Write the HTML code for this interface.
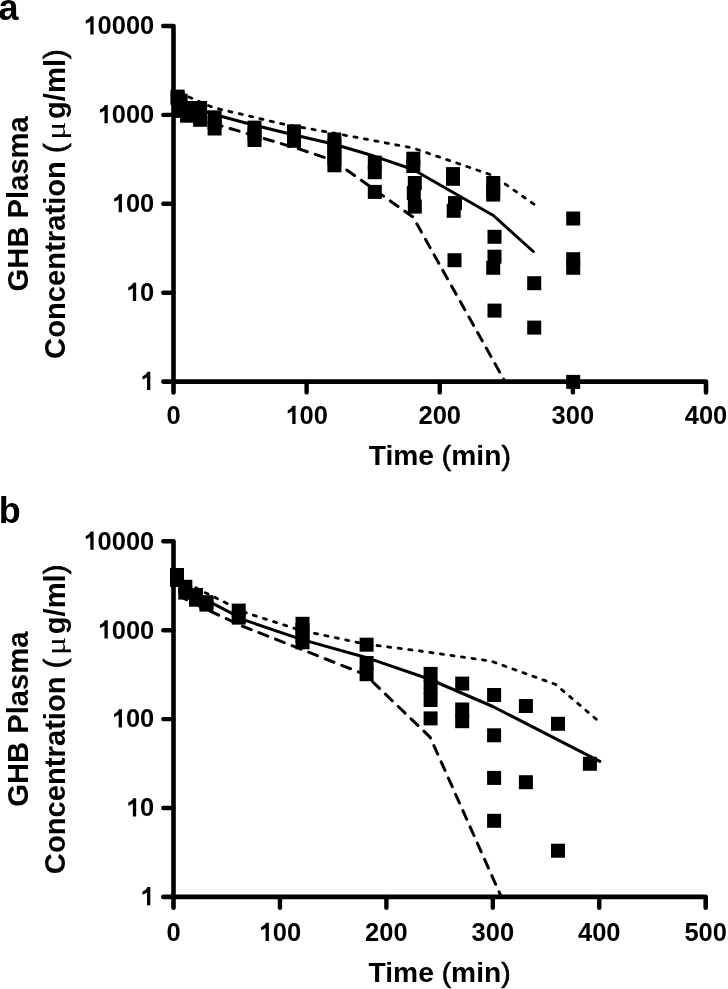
<!DOCTYPE html>
<html><head><meta charset="utf-8"><title>GHB plasma concentration</title>
<style>
html,body{margin:0;padding:0;background:#fff;}
svg{display:block;will-change:transform;}
.t{font-family:"Liberation Sans", sans-serif;font-weight:bold;font-size:25.5px;fill:#000;}
.l{font-family:"Liberation Sans", sans-serif;font-weight:bold;font-size:28.2px;fill:#000;}
.p{font-family:"Liberation Sans", sans-serif;font-weight:bold;font-size:36px;fill:#000;}
.yl{font-family:"Liberation Sans", sans-serif;font-weight:bold;font-size:29.2px;fill:#000;}
.pr{font-weight:normal;stroke:#000;stroke-width:0.7px;}
.mu{font-family:"Liberation Serif", serif;font-weight:normal;font-size:27.5px;fill:#000;}
</style></head>
<body>
<svg width="728" height="989" viewBox="0 0 728 989">
<rect width="728" height="989" fill="#fff"/>
<path d="M163.3,26 H173.5 V392.40000000000003" fill="none" stroke="#000" stroke-width="4.6" stroke-linecap="round" stroke-linejoin="round"/>
<path d="M163.3,381.6 H706.0 V392.40000000000003" fill="none" stroke="#000" stroke-width="4.6" stroke-linecap="round" stroke-linejoin="round"/>
<path d="M163.3,114.90 H173.5" stroke="#000" stroke-width="4.4" stroke-linecap="round"/>
<path d="M163.3,203.80 H173.5" stroke="#000" stroke-width="4.4" stroke-linecap="round"/>
<path d="M163.3,292.70 H173.5" stroke="#000" stroke-width="4.4" stroke-linecap="round"/>
<path d="M306.62,381.6 V392.40000000000003" stroke="#000" stroke-width="4.4" stroke-linecap="round"/>
<path d="M439.75,381.6 V392.40000000000003" stroke="#000" stroke-width="4.4" stroke-linecap="round"/>
<path d="M572.88,381.6 V392.40000000000003" stroke="#000" stroke-width="4.4" stroke-linecap="round"/>
<g transform="translate(0,34.40) scale(1,1.04) translate(0,-34.40)"><path transform="translate(83.39,34.40) scale(0.01245,-0.01197)" d="M820 0H555V1030Q400 900 190 850V1110Q320 1150 430 1250Q540 1350 580 1466H820Z"/><text x="97.57" y="34.40" class="t">0000</text></g>
<g transform="translate(0,123.30) scale(1,1.04) translate(0,-123.30)"><path transform="translate(97.57,123.30) scale(0.01245,-0.01197)" d="M820 0H555V1030Q400 900 190 850V1110Q320 1150 430 1250Q540 1350 580 1466H820Z"/><text x="111.75" y="123.30" class="t">000</text></g>
<g transform="translate(0,212.20) scale(1,1.04) translate(0,-212.20)"><path transform="translate(111.75,212.20) scale(0.01245,-0.01197)" d="M820 0H555V1030Q400 900 190 850V1110Q320 1150 430 1250Q540 1350 580 1466H820Z"/><text x="125.94" y="212.20" class="t">00</text></g>
<g transform="translate(0,301.10) scale(1,1.04) translate(0,-301.10)"><path transform="translate(125.94,301.10) scale(0.01245,-0.01197)" d="M820 0H555V1030Q400 900 190 850V1110Q320 1150 430 1250Q540 1350 580 1466H820Z"/><text x="140.12" y="301.10" class="t">0</text></g>
<g transform="translate(0,390.00) scale(1,1.04) translate(0,-390.00)"><path transform="translate(140.12,390.00) scale(0.01245,-0.01197)" d="M820 0H555V1030Q400 900 190 850V1110Q320 1150 430 1250Q540 1350 580 1466H820Z"/></g>
<g transform="translate(0,424.10) scale(1,1.04) translate(0,-424.10)"><text x="166.41" y="424.10" class="t">0</text></g>
<g transform="translate(0,424.10) scale(1,1.04) translate(0,-424.10)"><path transform="translate(285.35,424.10) scale(0.01245,-0.01197)" d="M820 0H555V1030Q400 900 190 850V1110Q320 1150 430 1250Q540 1350 580 1466H820Z"/><text x="299.53" y="424.10" class="t">00</text></g>
<g transform="translate(0,424.10) scale(1,1.04) translate(0,-424.10)"><text x="418.48" y="424.10" class="t">200</text></g>
<g transform="translate(0,424.10) scale(1,1.04) translate(0,-424.10)"><text x="551.60" y="424.10" class="t">300</text></g>
<g transform="translate(0,424.10) scale(1,1.04) translate(0,-424.10)"><text x="684.73" y="424.10" class="t">400</text></g>
<text x="439.75" y="464.60" text-anchor="middle" class="l">Time <tspan class="pr">(</tspan>min<tspan class="pr">)</tspan></text>
<text transform="translate(27.5,203.80) rotate(-90)" text-anchor="middle" class="yl">GHB Plasma</text>
<text transform="translate(65.4,358.90) rotate(-90)" class="yl">Concentration <tspan class="pr">(</tspan></text>
<text transform="translate(65.4,130.70) rotate(-90) scale(1.23,1)" text-anchor="middle" class="mu">μ</text>
<text transform="translate(65.4,119.00) rotate(-90)" class="yl">g/ml<tspan class="pr">)</tspan></text>
<text x="-1.5" y="20.0" class="p">a</text>
<path d="M177.6,92.0 L210.0,106.3 L220.5,109.3 L282.6,124.0 L333.2,133.0 L413.0,148.0 L493.0,175.5 L534.4,204.5" fill="none" stroke="#000" stroke-width="2.8" stroke-dasharray="3.2 7.44" stroke-dashoffset="8.92" stroke-linecap="round" stroke-linejoin="round"/>
<path d="M176.0,102.0 L213.4,114.2 L253.4,125.0 L293.3,134.8 L333.2,144.0 L373.2,155.8 L413.1,169.5 L493.4,215.5 L533.3,251.5" fill="none" stroke="#000" stroke-width="3.0" stroke-linecap="round" stroke-linejoin="round"/>
<path d="M177.6,112.9 L299.0,148.9 L333.2,160.4 L413.0,217.0 L505.0,381.6" fill="none" stroke="#000" stroke-width="3.0" stroke-dasharray="9.5 8.3" stroke-dashoffset="16.47" stroke-linecap="round" stroke-linejoin="round"/>
<rect x="170.60" y="89.60" width="14.0" height="14.0"/>
<rect x="170.60" y="91.20" width="14.0" height="14.0"/>
<rect x="173.60" y="93.70" width="14.0" height="14.0"/>
<rect x="173.60" y="103.90" width="14.0" height="14.0"/>
<rect x="180.10" y="101.00" width="14.0" height="14.0"/>
<rect x="180.10" y="108.70" width="14.0" height="14.0"/>
<rect x="186.50" y="101.00" width="14.0" height="14.0"/>
<rect x="186.50" y="108.00" width="14.0" height="14.0"/>
<rect x="193.10" y="101.00" width="14.0" height="14.0"/>
<rect x="193.10" y="112.80" width="14.0" height="14.0"/>
<rect x="207.60" y="110.30" width="14.0" height="14.0"/>
<rect x="207.60" y="116.00" width="14.0" height="14.0"/>
<rect x="207.60" y="121.50" width="14.0" height="14.0"/>
<rect x="247.50" y="120.60" width="14.0" height="14.0"/>
<rect x="247.50" y="127.00" width="14.0" height="14.0"/>
<rect x="247.50" y="133.00" width="14.0" height="14.0"/>
<rect x="287.00" y="124.40" width="14.0" height="14.0"/>
<rect x="287.00" y="130.00" width="14.0" height="14.0"/>
<rect x="287.00" y="133.80" width="14.0" height="14.0"/>
<rect x="327.40" y="132.50" width="14.0" height="14.0"/>
<rect x="327.40" y="139.00" width="14.0" height="14.0"/>
<rect x="327.40" y="145.00" width="14.0" height="14.0"/>
<rect x="327.40" y="151.00" width="14.0" height="14.0"/>
<rect x="327.40" y="158.30" width="14.0" height="14.0"/>
<rect x="367.80" y="155.60" width="14.0" height="14.0"/>
<rect x="367.80" y="165.20" width="14.0" height="14.0"/>
<rect x="367.80" y="184.90" width="14.0" height="14.0"/>
<rect x="406.30" y="151.70" width="14.0" height="14.0"/>
<rect x="406.30" y="159.00" width="14.0" height="14.0"/>
<rect x="407.80" y="176.00" width="14.0" height="14.0"/>
<rect x="406.80" y="186.00" width="14.0" height="14.0"/>
<rect x="407.80" y="199.60" width="14.0" height="14.0"/>
<rect x="446.00" y="167.10" width="14.0" height="14.0"/>
<rect x="446.00" y="171.80" width="14.0" height="14.0"/>
<rect x="448.00" y="196.10" width="14.0" height="14.0"/>
<rect x="446.70" y="203.80" width="14.0" height="14.0"/>
<rect x="447.50" y="253.20" width="14.0" height="14.0"/>
<rect x="486.20" y="176.00" width="14.0" height="14.0"/>
<rect x="486.20" y="183.00" width="14.0" height="14.0"/>
<rect x="486.20" y="187.60" width="14.0" height="14.0"/>
<rect x="487.50" y="229.80" width="14.0" height="14.0"/>
<rect x="487.50" y="249.70" width="14.0" height="14.0"/>
<rect x="486.20" y="260.80" width="14.0" height="14.0"/>
<rect x="487.50" y="303.60" width="14.0" height="14.0"/>
<rect x="527.20" y="276.20" width="14.0" height="14.0"/>
<rect x="527.20" y="320.60" width="14.0" height="14.0"/>
<rect x="566.20" y="211.50" width="14.0" height="14.0"/>
<rect x="566.20" y="252.20" width="14.0" height="14.0"/>
<rect x="566.20" y="260.80" width="14.0" height="14.0"/>
<rect x="566.20" y="374.90" width="14.0" height="14.0"/>
<path d="M163.3,541.3 H173.5 V907.6999999999999" fill="none" stroke="#000" stroke-width="4.6" stroke-linecap="round" stroke-linejoin="round"/>
<path d="M163.3,896.9 H705.7 V907.6999999999999" fill="none" stroke="#000" stroke-width="4.6" stroke-linecap="round" stroke-linejoin="round"/>
<path d="M163.3,630.20 H173.5" stroke="#000" stroke-width="4.4" stroke-linecap="round"/>
<path d="M163.3,719.10 H173.5" stroke="#000" stroke-width="4.4" stroke-linecap="round"/>
<path d="M163.3,808.00 H173.5" stroke="#000" stroke-width="4.4" stroke-linecap="round"/>
<path d="M279.94,896.9 V907.6999999999999" stroke="#000" stroke-width="4.4" stroke-linecap="round"/>
<path d="M386.38,896.9 V907.6999999999999" stroke="#000" stroke-width="4.4" stroke-linecap="round"/>
<path d="M492.82,896.9 V907.6999999999999" stroke="#000" stroke-width="4.4" stroke-linecap="round"/>
<path d="M599.26,896.9 V907.6999999999999" stroke="#000" stroke-width="4.4" stroke-linecap="round"/>
<g transform="translate(0,549.70) scale(1,1.04) translate(0,-549.70)"><path transform="translate(83.39,549.70) scale(0.01245,-0.01197)" d="M820 0H555V1030Q400 900 190 850V1110Q320 1150 430 1250Q540 1350 580 1466H820Z"/><text x="97.57" y="549.70" class="t">0000</text></g>
<g transform="translate(0,638.60) scale(1,1.04) translate(0,-638.60)"><path transform="translate(97.57,638.60) scale(0.01245,-0.01197)" d="M820 0H555V1030Q400 900 190 850V1110Q320 1150 430 1250Q540 1350 580 1466H820Z"/><text x="111.75" y="638.60" class="t">000</text></g>
<g transform="translate(0,727.50) scale(1,1.04) translate(0,-727.50)"><path transform="translate(111.75,727.50) scale(0.01245,-0.01197)" d="M820 0H555V1030Q400 900 190 850V1110Q320 1150 430 1250Q540 1350 580 1466H820Z"/><text x="125.94" y="727.50" class="t">00</text></g>
<g transform="translate(0,816.40) scale(1,1.04) translate(0,-816.40)"><path transform="translate(125.94,816.40) scale(0.01245,-0.01197)" d="M820 0H555V1030Q400 900 190 850V1110Q320 1150 430 1250Q540 1350 580 1466H820Z"/><text x="140.12" y="816.40" class="t">0</text></g>
<g transform="translate(0,905.30) scale(1,1.04) translate(0,-905.30)"><path transform="translate(140.12,905.30) scale(0.01245,-0.01197)" d="M820 0H555V1030Q400 900 190 850V1110Q320 1150 430 1250Q540 1350 580 1466H820Z"/></g>
<g transform="translate(0,940.90) scale(1,1.04) translate(0,-940.90)"><text x="166.41" y="940.90" class="t">0</text></g>
<g transform="translate(0,940.90) scale(1,1.04) translate(0,-940.90)"><path transform="translate(258.67,940.90) scale(0.01245,-0.01197)" d="M820 0H555V1030Q400 900 190 850V1110Q320 1150 430 1250Q540 1350 580 1466H820Z"/><text x="272.85" y="940.90" class="t">00</text></g>
<g transform="translate(0,940.90) scale(1,1.04) translate(0,-940.90)"><text x="365.11" y="940.90" class="t">200</text></g>
<g transform="translate(0,940.90) scale(1,1.04) translate(0,-940.90)"><text x="471.55" y="940.90" class="t">300</text></g>
<g transform="translate(0,940.90) scale(1,1.04) translate(0,-940.90)"><text x="577.99" y="940.90" class="t">400</text></g>
<g transform="translate(0,940.90) scale(1,1.04) translate(0,-940.90)"><text x="684.43" y="940.90" class="t">500</text></g>
<text x="439.60" y="981.70" text-anchor="middle" class="l">Time <tspan class="pr">(</tspan>min<tspan class="pr">)</tspan></text>
<text transform="translate(27.5,719.10) rotate(-90)" text-anchor="middle" class="yl">GHB Plasma</text>
<text transform="translate(65.4,874.20) rotate(-90)" class="yl">Concentration <tspan class="pr">(</tspan></text>
<text transform="translate(65.4,646.00) rotate(-90) scale(1.23,1)" text-anchor="middle" class="mu">μ</text>
<text transform="translate(65.4,634.30) rotate(-90)" class="yl">g/ml<tspan class="pr">)</tspan></text>
<text x="-1.2" y="522.6" class="p">b</text>
<path d="M181.0,580.0 L205.4,592.8 L247.1,613.2 L301.2,630.5 L365.1,644.0 L420.0,651.0 L490.7,661.0 L555.6,684.4 L598.0,720.7" fill="none" stroke="#000" stroke-width="2.8" stroke-dasharray="3.2 7.44" stroke-dashoffset="4.65" stroke-linecap="round" stroke-linejoin="round"/>
<path d="M181.0,587.0 L205.4,599.7 L245.4,620.4 L301.2,639.4 L365.1,657.2 L429.0,679.0 L492.8,706.5 L599.8,761.4" fill="none" stroke="#000" stroke-width="3.0" stroke-linecap="round" stroke-linejoin="round"/>
<path d="M183.0,598.0 L205.4,609.0 L243.6,626.6 L365.1,674.5 L430.2,737.3 L501.3,896.9" fill="none" stroke="#000" stroke-width="3.0" stroke-dasharray="9.5 8.3" stroke-dashoffset="5.52" stroke-linecap="round" stroke-linejoin="round"/>
<rect x="170.00" y="568.00" width="14.0" height="14.0"/>
<rect x="170.00" y="573.00" width="14.0" height="14.0"/>
<rect x="178.30" y="579.80" width="14.0" height="14.0"/>
<rect x="178.30" y="585.60" width="14.0" height="14.0"/>
<rect x="189.00" y="588.00" width="14.0" height="14.0"/>
<rect x="189.00" y="592.70" width="14.0" height="14.0"/>
<rect x="199.40" y="595.20" width="14.0" height="14.0"/>
<rect x="199.40" y="597.60" width="14.0" height="14.0"/>
<rect x="231.70" y="603.60" width="14.0" height="14.0"/>
<rect x="231.70" y="610.60" width="14.0" height="14.0"/>
<rect x="295.50" y="616.80" width="14.0" height="14.0"/>
<rect x="295.50" y="623.00" width="14.0" height="14.0"/>
<rect x="295.50" y="629.00" width="14.0" height="14.0"/>
<rect x="295.50" y="635.30" width="14.0" height="14.0"/>
<rect x="359.60" y="637.70" width="14.0" height="14.0"/>
<rect x="359.60" y="656.00" width="14.0" height="14.0"/>
<rect x="359.60" y="667.20" width="14.0" height="14.0"/>
<rect x="423.60" y="666.90" width="14.0" height="14.0"/>
<rect x="423.60" y="679.90" width="14.0" height="14.0"/>
<rect x="423.60" y="693.00" width="14.0" height="14.0"/>
<rect x="423.60" y="711.40" width="14.0" height="14.0"/>
<rect x="455.20" y="676.60" width="14.0" height="14.0"/>
<rect x="455.20" y="702.50" width="14.0" height="14.0"/>
<rect x="455.20" y="714.20" width="14.0" height="14.0"/>
<rect x="487.10" y="688.00" width="14.0" height="14.0"/>
<rect x="487.10" y="728.30" width="14.0" height="14.0"/>
<rect x="487.10" y="770.90" width="14.0" height="14.0"/>
<rect x="487.10" y="813.80" width="14.0" height="14.0"/>
<rect x="518.90" y="699.00" width="14.0" height="14.0"/>
<rect x="518.90" y="775.20" width="14.0" height="14.0"/>
<rect x="551.00" y="716.80" width="14.0" height="14.0"/>
<rect x="551.00" y="843.70" width="14.0" height="14.0"/>
<rect x="582.90" y="756.80" width="14.0" height="14.0"/>
</svg>
</body></html>
